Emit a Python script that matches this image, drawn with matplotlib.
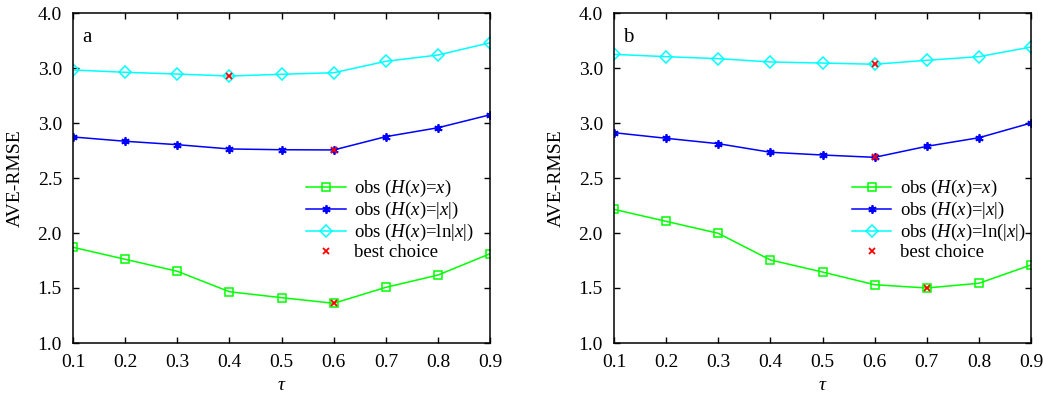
import numpy as np
from matplotlib import pyplot as plt
from matplotlib.lines import Line2D

plt.rcParams['font.family'] = ['Liberation Serif', 'DejaVu Serif']
plt.rcParams['mathtext.fontset'] = 'custom'
plt.rcParams['mathtext.rm'] = 'Liberation Serif'
plt.rcParams['mathtext.it'] = 'Liberation Serif:italic'

tau = [0.1, 0.2, 0.3, 0.4, 0.5, 0.6, 0.7, 0.8, 0.9]

# panel a
a_lin = [1.870, 1.761, 1.652, 1.466, 1.412, 1.361, 1.506, 1.618, 1.812]
a_abs = [2.873, 2.834, 2.803, 2.764, 2.757, 2.755, 2.876, 2.957, 3.075]
a_log = [3.482, 3.461, 3.445, 3.427, 3.443, 3.457, 3.561, 3.618, 3.730]

# panel b
b_lin = [2.215, 2.106, 1.997, 1.755, 1.645, 1.530, 1.500, 1.543, 1.709]
b_abs = [2.912, 2.861, 2.812, 2.734, 2.709, 2.688, 2.788, 2.866, 3.000]
b_log = [3.624, 3.603, 3.585, 3.555, 3.545, 3.534, 3.570, 3.603, 3.691]

# index of the best tau for each series
a_best = {'lin': 5, 'abs': 5, 'log': 3}
b_best = {'lin': 6, 'abs': 5, 'log': 5}

yticks = [1.0, 1.5, 2.0, 2.5, 3.0, 3.5, 4.0]
ytick_labels = ['1.0', '1.5', '2.0', '2.5', '3.0', '3.0', '4.0']  # as printed
xtick_labels = ['0.1', '0.2', '0.3', '0.4', '0.5', '0.6', '0.7', '0.8', '0.9']

asterisk = (6, 2, 0)
sq = dict(color='#00ff00', lw=1.1, marker='s', ms=5.2, mfc='none',
          mec='#00ff00', mew=1.1)
st = dict(color='#0000ff', lw=1.1, marker=asterisk, ms=6, mec='#0000ff',
          mew=1.3)
dm = dict(color='#00ffff', lw=1.1, marker='D', ms=6.3, mfc='none',
          mec='#00ffff', mew=1.1)
bc = dict(ls='none', marker='x', ms=4.5, mec='#ff0000', mew=1.3)


def panel(ax, lin, ab, lg, best, tag, log_label, leg_x):
    ax.plot(tau, lin, **sq)
    ax.plot(tau, ab, **st)
    ax.plot(tau, lg, **dm)
    bx = [tau[best['lin']], tau[best['abs']], tau[best['log']]]
    by = [lin[best['lin']], ab[best['abs']], lg[best['log']]]
    ax.plot(bx, by, **bc)

    ax.set_xlim(0.1, 0.9)
    ax.set_ylim(1.0, 4.0)
    ax.set_xticks(tau)
    ax.set_xticklabels(xtick_labels)
    ax.set_yticks(yticks)
    ax.set_yticklabels(ytick_labels)
    ax.tick_params(direction='in', length=4, width=1, top=True, right=True,
                   labelsize=14, pad=8)
    for s in ax.spines.values():
        s.set_linewidth(1.1)
    ax.set_xlabel(r'$\tau$', fontsize=14, labelpad=4)
    ax.set_ylabel('AVE-RMSE', fontsize=14, labelpad=10)
    ax.text(0.022, 0.955, tag, transform=ax.transAxes, fontsize=15,
            va='top', ha='left')

    handles = [Line2D([], [], **sq), Line2D([], [], **st),
               Line2D([], [], **dm), Line2D([], [], **bc)]
    labels = [r'obs ($H$($x$)=$x$)', r'obs ($H$($x$)=|$x$|)', log_label,
              'best choice']
    ax.legend(handles, labels, loc='upper left', bbox_to_anchor=(leg_x, 0.5),
              frameon=False, fontsize=13.5, handlelength=2.1,
              handletextpad=0.45, labelspacing=0.05, borderpad=0,
              borderaxespad=0)


fig = plt.figure(figsize=(10.43, 4.0), dpi=100)
ax1 = fig.add_axes([0.070, 0.1425, 0.400, 0.825])
ax2 = fig.add_axes([0.5887, 0.1425, 0.3998, 0.825])

panel(ax1, a_lin, a_abs, a_log, a_best, 'a',
      r'obs ($H$($x$)=ln|$x$|)', 0.559)
panel(ax2, b_lin, b_abs, b_log, b_best, 'b',
      r'obs ($H$($x$)=ln(|$x$|)', 0.571)

fig.savefig('out.png', dpi=100)
